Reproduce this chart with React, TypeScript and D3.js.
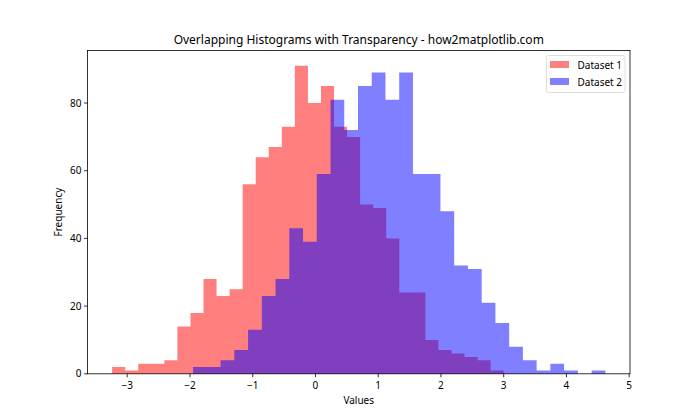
import React from "react";
import * as d3 from "d3";

const dataset1Counts = [2, 1, 3, 3, 4, 14, 18, 28, 23, 25, 56, 64, 67, 73, 91, 80, 85, 73, 70, 50, 49, 40, 24, 24, 10, 7, 6, 5, 4, 1];
const dataset1Range = [-3.24, 3.0];
const dataset2Counts = [2, 2, 4, 7, 13, 23, 28, 43, 39, 59, 81, 72, 85, 89, 81, 89, 59, 59, 48, 32, 31, 21, 15, 8, 4, 1, 3, 1, 0, 1];
const dataset2Range = [-1.95, 4.62];
const seriesNames = ["Dataset 1", "Dataset 2"];
const seriesColors = ["red", "blue"];
const xTicks = [-3, -2, -1, 0, 1, 2, 3, 4, 5];
const yTicks = [0, 20, 40, 60, 80];

const W = 700, H = 420;
const L = 87.5, R = 630, T = 50.4, B = 373.8;
const FONT = "'Noto Sans', 'DejaVu Sans', sans-serif";

function bins(counts: number[], range: number[]) {
  const w = (range[1] - range[0]) / counts.length;
  return counts.map((c, i) => ({ x0: range[0] + i * w, x1: range[0] + (i + 1) * w, c }));
}

export default function App() {
  const allMin = Math.min(dataset1Range[0], dataset2Range[0]);
  const allMax = Math.max(dataset1Range[1], dataset2Range[1]);
  const pad = (allMax - allMin) * 0.05;
  const x = d3.scaleLinear().domain([allMin - pad, allMax + pad]).range([L, R]);
  const yMax = Math.max(...dataset1Counts, ...dataset2Counts) * 1.05;
  const y = d3.scaleLinear().domain([0, yMax]).range([B, T]);
  const series = [bins(dataset1Counts, dataset1Range), bins(dataset2Counts, dataset2Range)];

  const stepPath = (bs: { x0: number; x1: number; c: number }[]) => {
    const p = d3.path();
    p.moveTo(x(bs[0].x0), y(0));
    bs.forEach(b => {
      p.lineTo(x(b.x0), y(b.c));
      p.lineTo(x(b.x1), y(b.c));
    });
    p.lineTo(x(bs[bs.length - 1].x1), y(0));
    p.closePath();
    return p.toString();
  };

  return (
    <svg width={W} height={H} style={{ position: "absolute", left: 0, top: 0, background: "white" }} fontFamily={FONT}>
      <rect x={0} y={0} width={W} height={H} fill="white" />
      {series.map((bs, si) => (
        <path key={si} d={stepPath(bs)} fill={seriesColors[si]} fillOpacity={0.5} />
      ))}
      <rect x={L} y={T} width={R - L} height={B - T} fill="none" stroke="black" strokeWidth={0.8} />
      {xTicks.map(t => (
        <g key={t} transform={`translate(${x(t)},${B})`}>
          <line y1={0} y2={3.5} stroke="black" strokeWidth={0.8} />
          <text y={15} textAnchor="middle" fontSize={10} fill="black">{t < 0 ? "\u2212" + Math.abs(t) : t}</text>
        </g>
      ))}
      {yTicks.map(t => (
        <g key={t} transform={`translate(${L},${y(t)})`}>
          <line x1={0} x2={-3.5} stroke="black" strokeWidth={0.8} />
          <text x={-6} dy="0.35em" textAnchor="end" fontSize={10} fill="black">{t}</text>
        </g>
      ))}
      <text x={(L + R) / 2} y={404} textAnchor="middle" fontSize={10} fill="black">Values</text>
      <text transform={`translate(62,${(T + B) / 2}) rotate(-90)`} textAnchor="middle" fontSize={10} fill="black">Frequency</text>
      <text x={(L + R) / 2} y={44} textAnchor="middle" fontSize={12} fill="black">Overlapping Histograms with Transparency - how2matplotlib.com</text>
      <g>
        <rect x={546.5} y={55.5} width={78.5} height={37} rx={2} fill="white" fillOpacity={0.8} stroke="#d5d5d5" strokeWidth={0.8} />
        {seriesNames.map((n, i) => (
          <g key={n} transform={`translate(0,${i * 17})`}>
            <rect x={550} y={61} width={19} height={7} fill={seriesColors[i]} fillOpacity={0.5} />
            <text x={577.5} y={68.5} fontSize={10} fill="black">{n}</text>
          </g>
        ))}
      </g>
    </svg>
  );
}
